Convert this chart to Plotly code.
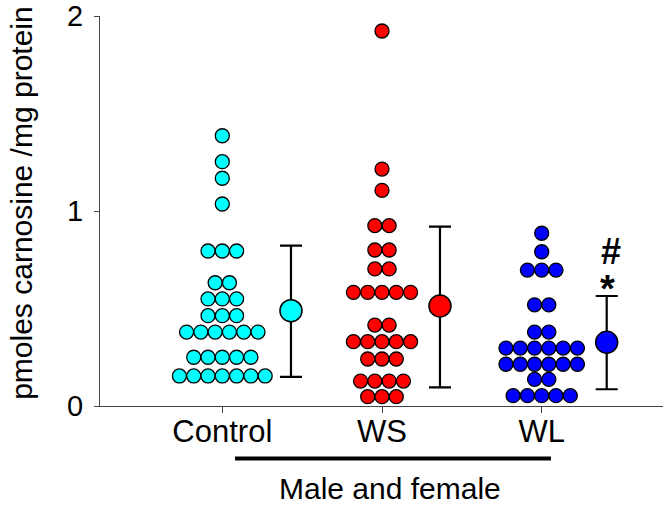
import plotly.graph_objects as go
from collections import Counter

# ---- data ----
categories = ["Control", "WS", "WL"]
control_values = [1.386, 1.253, 1.168, 1.036,
                  0.795, 0.795, 0.795,
                  0.632, 0.632,
                  0.549, 0.549, 0.549,
                  0.463, 0.463, 0.463,
                  0.379, 0.379, 0.379, 0.379, 0.379, 0.379,
                  0.250, 0.250, 0.250, 0.250, 0.250,
                  0.154, 0.154, 0.154, 0.154, 0.154, 0.154, 0.154]
ws_values = [1.923, 1.215, 1.106,
             0.925, 0.925,
             0.800, 0.800,
             0.703, 0.703,
             0.583, 0.583, 0.583, 0.583, 0.583,
             0.415, 0.415,
             0.330, 0.330, 0.330, 0.330, 0.330,
             0.241, 0.241, 0.241,
             0.128, 0.128, 0.128, 0.128,
             0.048, 0.048, 0.048]
wl_values = [0.886, 0.791,
             0.697, 0.697, 0.697,
             0.519, 0.519,
             0.379, 0.379,
             0.297, 0.297, 0.297, 0.297, 0.297, 0.297,
             0.214, 0.214, 0.214, 0.214, 0.214, 0.214,
             0.137, 0.137,
             0.053, 0.053, 0.053, 0.053, 0.053]
group_means = [0.489, 0.513, 0.327]
group_sd_plus = [0.333, 0.407, 0.237]
group_sd_minus = [0.340, 0.417, 0.241]
y_ticks = [0, 1, 2]
y_title = "pmoles carnosine /mg protein"
group_caption = "Male and female"

# ---- styling / layout constants ----
colors = ["#00FFFF", "#FF0000", "#0000FF"]
dot_spacing = 0.0895
mean_offsets = [0.43, 0.363, 0.407]
FONT = "Arial, Liberation Sans, sans-serif"

fig = go.Figure()
all_values = [control_values, ws_values, wl_values]
for gi, vals in enumerate(all_values):
    counts = Counter(vals)
    seen = Counter()
    xs = []
    for v in vals:
        n = counts[v]
        i = seen[v]
        seen[v] += 1
        xs.append(gi + (i - (n - 1) / 2) * dot_spacing)
    fig.add_trace(go.Scatter(
        x=xs, y=vals, mode="markers", cliponaxis=False, showlegend=False,
        hoverinfo="skip",
        marker=dict(size=14, color=colors[gi], line=dict(color="black", width=1.3)),
    ))
    fig.add_trace(go.Scatter(
        x=[gi + mean_offsets[gi]], y=[group_means[gi]], mode="markers",
        cliponaxis=False, showlegend=False, hoverinfo="skip",
        marker=dict(size=22, color=colors[gi], line=dict(color="black", width=1.5)),
        error_y=dict(type="data", symmetric=False, array=[group_sd_plus[gi]],
                     arrayminus=[group_sd_minus[gi]], color="black",
                     thickness=2.2, width=11),
    ))

# significance marks
fig.add_annotation(x=2 + 0.437, y=0.79, text="<b>#</b>", showarrow=False,
                   font=dict(family=FONT, size=36, color="black"),
                   xref="x", yref="y")
fig.add_annotation(x=2 + 0.415, y=0.60, text="<b>*</b>", showarrow=False,
                   font=dict(family=FONT, size=38, color="black"),
                   xref="x", yref="y")

# group bar and caption (paper coordinates so they are not hidden)
fig.add_shape(type="line", x0=0.2398, x1=0.801, y0=-0.1344, y1=-0.1344,
              xref="paper", yref="paper", line=dict(color="black", width=4))
fig.add_annotation(x=0.5158, y=-0.212, text=group_caption, showarrow=False,
                   font=dict(family=FONT, size=30, color="black"),
                   xref="paper", yref="paper", xanchor="center", yanchor="middle")
# y title
fig.add_annotation(x=-0.1385, y=0.521, text=y_title, textangle=-90,
                   showarrow=False, xref="paper", yref="paper",
                   xanchor="center", yanchor="middle",
                   font=dict(family=FONT, size=30, color="black"))

px_per_unit = 159.7
left_px, right_px = 100, 663
fig.update_layout(
    width=666, height=505,
    margin=dict(l=left_px, r=666 - right_px, t=16, b=505 - 406.5, autoexpand=False),
    paper_bgcolor="white", plot_bgcolor="white",
    font=dict(family=FONT, color="black"),
    xaxis=dict(
        range=[(left_px - 222.3) / px_per_unit, (right_px - 222.3) / px_per_unit],
        tickmode="array", tickvals=[0, 1, 2], ticktext=categories,
        showline=True, linecolor="#444", linewidth=1,
        ticks="outside", ticklen=6, tickcolor="#444", tickwidth=1,
        tickfont=dict(size=31, family=FONT, color="black"),
        ticklabelstandoff=-8,
        showgrid=False, zeroline=False, automargin=False,
    ),
    yaxis=dict(
        range=[0, 2], tickmode="array", tickvals=y_ticks,
        ticktext=[str(t) for t in y_ticks],
        showline=True, linecolor="#444", linewidth=1,
        ticks="outside", ticklen=5, tickcolor="#444", tickwidth=1,
        tickfont=dict(size=29, family=FONT, color="black"),
        ticklabelstandoff=5,
        showgrid=False, zeroline=False, automargin=False,
    ),
)

fig.write_html("out.html", config={"displayModeBar": False},
               post_script="document.body.style.margin='0';document.body.style.padding='0';")
